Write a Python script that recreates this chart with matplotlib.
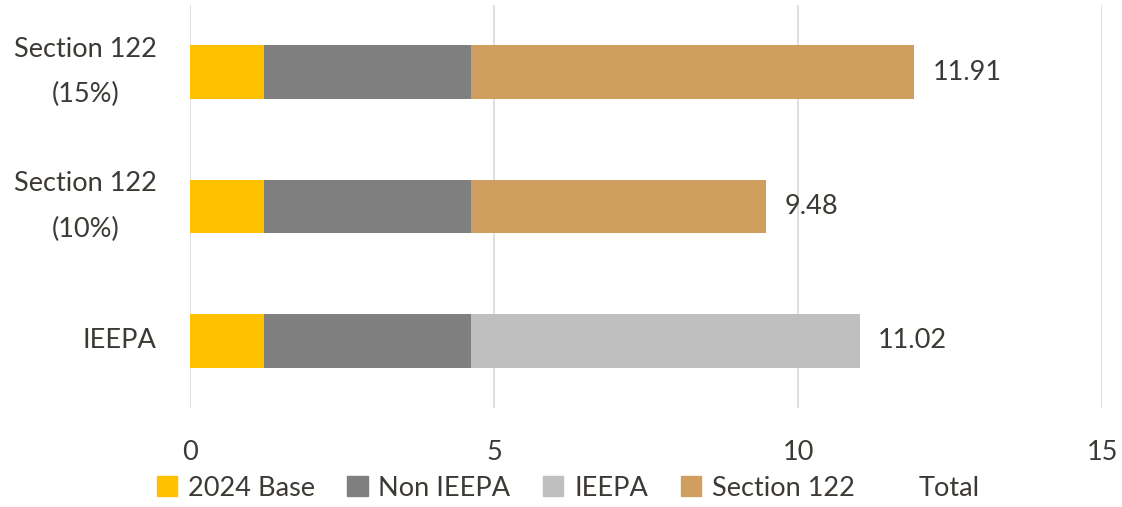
import matplotlib.pyplot as plt
from matplotlib.patches import Patch

# data
categories = ['IEEPA', 'Section 122\n(10%)', 'Section 122\n(15%)']
base_2024 = [1.22, 1.22, 1.22]
non_ieepa = [3.40, 3.40, 3.40]
ieepa = [6.40, 0, 0]
section_122 = [0, 4.86, 7.29]
total = [11.02, 9.48, 11.91]

colors = {'2024 Base': '#FFC000', 'Non IEEPA': '#7F7F7F',
          'IEEPA': '#BFBFBF', 'Section 122': '#D09F5F'}
text_color = '#3d3935'
fs = 19.5

plt.rcParams['font.family'] = ['Lato', 'DejaVu Sans']

fig = plt.figure(figsize=(11.22, 5.07), dpi=100)
ax = fig.add_axes([190 / 1122, 1 - 408 / 507, 912 / 1122, 403 / 507])

y = list(range(len(categories)))
h = 0.4
left = [0.0] * len(categories)
for name, vals in [('2024 Base', base_2024), ('Non IEEPA', non_ieepa),
                   ('IEEPA', ieepa), ('Section 122', section_122)]:
    ax.barh(y, vals, left=left, height=h, color=colors[name], label=name)
    left = [l + v for l, v in zip(left, vals)]

for yi, t in zip(y, total):
    ax.text(t + 0.3, yi, f'{t:.2f}', va='center', ha='left',
            fontsize=fs, color=text_color)

ax.set_xlim(0, 15)
ax.set_ylim(-0.5, 2.5)
ax.set_xticks([0, 5, 10, 15])
ax.set_yticks(y)
ax.set_yticklabels(categories, linespacing=2.0, multialignment='center', va='center')
ax.tick_params(axis='both', length=0, labelsize=fs, colors=text_color)
ax.tick_params(axis='x', pad=23)
ax.tick_params(axis='y', pad=24)
ax.xaxis.grid(True, color='#D9D9D9', linewidth=1.2)
ax.set_axisbelow(True)
for s in ax.spines.values():
    s.set_visible(False)

handles = [Patch(color=colors[k]) for k in colors]
handles.append(Patch(color='none'))
labels = list(colors.keys()) + ['Total']
fig.legend(handles, labels, loc='center', bbox_to_anchor=(568 / 1122, 1 - 488 / 507),
           ncol=5, frameon=False, fontsize=fs, labelcolor=text_color,
           handlelength=0.75, handleheight=0.75, handletextpad=0.4, columnspacing=1.2)

fig.savefig('out.png', dpi=100)
